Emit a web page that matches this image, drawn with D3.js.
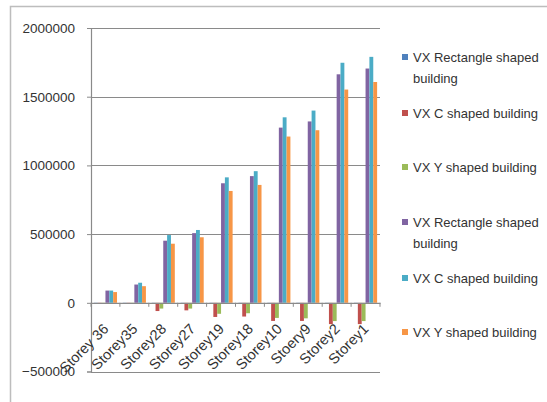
<!DOCTYPE html>
<html>
<head>
<meta charset="utf-8">
<script src="https://cdn.jsdelivr.net/npm/d3@7/dist/d3.min.js"></script>
<style>
  html, body { margin: 0; padding: 0; background: #ffffff; }
  svg { display: block; }
  text { font-family: "Liberation Sans", Arial, sans-serif; fill: #333333; }
</style>
</head>
<body>
<svg id="chart" width="547" height="402"></svg>
<script>
// Storey labels along the category axis
const storeys = ["Storey 36", "Storey35", "Storey28", "Storey27", "Storey19",
                 "Storey18", "Storey10", "Stoery9", "Storey2", "Storey1"];

// Legend names, one per series
const seriesNames = [
  "VX Rectangle shaped building",
  "VX C shaped building",
  "VX Y shaped building",
  "VX Rectangle shaped building",
  "VX C shaped building",
  "VX Y shaped building"
];

// Series values per storey
const vxRectA = [-7000, -6000, -6000, -6000, -7000, -7000, -7000, -7000, -7000, -7000];
const vxCA    = [-6000, -6000, -60000, -55000, -103000, -100000, -132000, -132000, -155000, -155000];
const vxYA    = [-5000, -5000, -42000, -42000, -80000, -76000, -110000, -113000, -133000, -133000];
const vxRectB = [89000, 133000, 452000, 507000, 870000, 922000, 1275000, 1320000, 1663000, 1705000];
const vxCB    = [89000, 146000, 493000, 530000, 913000, 958000, 1350000, 1399000, 1747000, 1790000];
const vxYB    = [78000, 121000, 430000, 477000, 814000, 858000, 1210000, 1256000, 1552000, 1607000];

const yTicks = [-500000, 0, 500000, 1000000, 1500000, 2000000];

const seriesValues = [vxRectA, vxCA, vxYA, vxRectB, vxCB, vxYB];
const colors = ["#4F81BD", "#C0504D", "#9BBB59", "#8064A2", "#4BACC6", "#F79646"];

const svg = d3.select("#chart");

// outer chart frame
svg.append("path")
  .attr("d", "M10.5,402 V6.5 H547")
  .attr("fill", "none")
  .attr("stroke", "#bdbdbd")
  .attr("stroke-width", 1.5);

const plot = { left: 91, right: 380, top: 28, bottom: 371.5 };

const y = d3.scaleLinear()
  .domain([-500000, 2000000])
  .range([plot.bottom, plot.top]);

const x0 = d3.scaleBand()
  .domain(storeys)
  .range([plot.left, plot.right])
  .paddingInner(0)
  .paddingOuter(0);

// six touching bars per cluster, 150% gap split over both sides
const x1 = d3.scaleBand()
  .domain(d3.range(seriesValues.length))
  .range([0, x0.bandwidth()])
  .paddingInner(0)
  .paddingOuter(0.75);

// horizontal gridlines
svg.append("g")
  .selectAll("line")
  .data(yTicks)
  .join("line")
  .attr("x1", plot.left)
  .attr("x2", plot.right)
  .attr("y1", d => Math.round(y(d)) + 0.5)
  .attr("y2", d => Math.round(y(d)) + 0.5)
  .attr("stroke", "#8a8a8a")
  .attr("stroke-width", 1.2);

// value axis
const yAxis = d3.axisLeft(y)
  .tickValues(yTicks)
  .tickSize(4)
  .tickPadding(12)
  .tickFormat(d3.format("d"));

const gy = svg.append("g")
  .attr("transform", `translate(${plot.left},0)`)
  .call(yAxis);
gy.select(".domain").attr("stroke", "#8a8a8a").attr("stroke-width", 1.2);
gy.selectAll(".tick line").attr("stroke", "#8a8a8a");
gy.selectAll(".tick text")
  .attr("font-size", 13.5)
  .attr("fill", "#333333")
  .style("font-family", '"Liberation Sans", Arial, sans-serif');

// bars
const groups = svg.append("g")
  .selectAll("g")
  .data(storeys)
  .join("g")
  .attr("transform", d => `translate(${x0(d)},0)`);

groups.selectAll("rect")
  .data((d, i) => seriesValues.map((vals, s) => ({ s, v: vals[i] })))
  .join("rect")
  .attr("x", d => x1(d.s))
  .attr("width", x1.bandwidth())
  .attr("y", d => y(Math.max(0, d.v)))
  .attr("height", d => Math.abs(y(d.v) - y(0)))
  .attr("fill", d => colors[d.s]);

// category axis through zero
const xAxis = d3.axisBottom(x0).tickSize(0).tickFormat("");
const gx = svg.append("g")
  .attr("transform", `translate(0,${y(0)})`)
  .call(xAxis);
gx.select(".domain").attr("stroke", "#8a8a8a").attr("stroke-width", 1.2);

// tick marks between categories
svg.append("g")
  .selectAll("line")
  .data(d3.range(storeys.length + 1))
  .join("line")
  .attr("x1", i => plot.left + i * x0.bandwidth())
  .attr("x2", i => plot.left + i * x0.bandwidth())
  .attr("y1", y(0))
  .attr("y2", y(0) + 4)
  .attr("stroke", "#8a8a8a");

// rotated category labels
svg.append("g")
  .selectAll("text")
  .data(storeys)
  .join("text")
  .attr("transform", d => `translate(${x0(d) + x0.bandwidth() / 2 + 4},${y(0) + 27}) rotate(-45)`)
  .attr("text-anchor", "end")
  .attr("font-size", 14.5)
  .text(d => d);

// legend
const legendRows = [
  { y: 57, lines: ["VX Rectangle shaped", "building"] },
  { y: 113, lines: ["VX C shaped building"] },
  { y: 167, lines: ["VX Y shaped building"] },
  { y: 222, lines: ["VX Rectangle shaped", "building"] },
  { y: 278, lines: ["VX C shaped building"] },
  { y: 332, lines: ["VX Y shaped building"] }
];

const legend = svg.append("g");
legendRows.forEach((row, i) => {
  legend.append("rect")
    .attr("x", 402)
    .attr("y", row.y - 3)
    .attr("width", 6)
    .attr("height", 6)
    .attr("fill", colors[i]);
  const t = legend.append("text")
    .attr("x", 413)
    .attr("y", row.y + 4.5)
    .attr("font-size", 13);
  row.lines.forEach((ln, k) => {
    t.append("tspan")
      .attr("x", 413)
      .attr("dy", k === 0 ? 0 : 21.5)
      .text(ln);
  });
});
</script>
</body>
</html>
